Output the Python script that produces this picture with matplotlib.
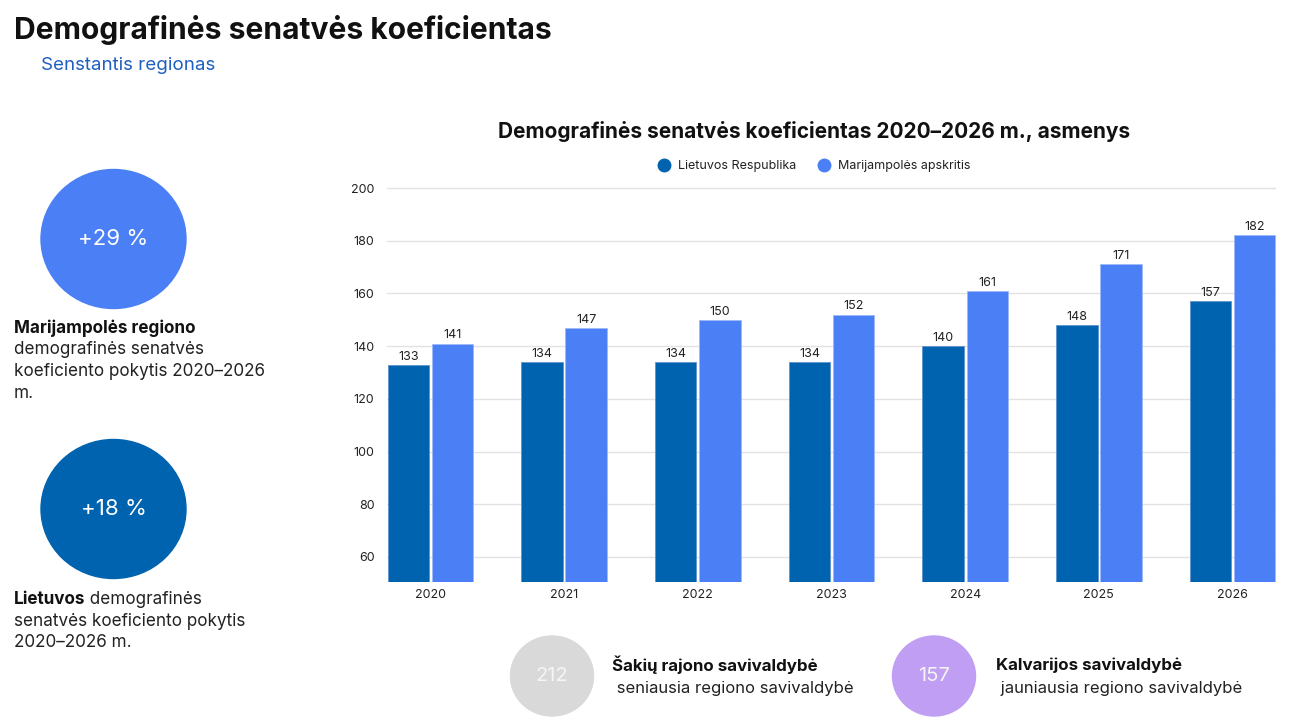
import matplotlib
matplotlib.use("Agg")
import matplotlib.pyplot as plt
from matplotlib.patches import Ellipse
from matplotlib.lines import Line2D
import numpy as np

plt.rcParams['font.family'] = ['Inter', 'DejaVu Sans']

# duomenys
years = ["2020", "2021", "2022", "2023", "2024", "2025", "2026"]
lietuva = [133, 134, 134, 134, 140, 148, 157]
marijampole = [141, 147, 150, 152, 161, 171, 182]
series_names = ["Lietuvos Respublika", "Marijampolės apskritis"]

change_region = "+29 %"
change_lt = "+18 %"
oldest_value = "212"
oldest_name = "Šakių rajono savivaldybė"
youngest_value = "157"
youngest_name = "Kalvarijos savivaldybė"

dark = "#0063AF"
light = "#4A7FF5"

W, H = 1291, 726
fig = plt.figure(figsize=(W / 100, H / 100), dpi=100)

# fono ašys pikseliais
bg = fig.add_axes([0, 0, 1, 1])
bg.set_xlim(0, W)
bg.set_ylim(H, 0)
bg.axis("off")

bg.text(14, 30, "Demografinės senatvės koeficientas", fontsize=21.6, fontweight="bold",
        va="center", ha="left", color="#111111")
bg.text(41, 66, "Senstantis regionas", fontsize=13.5, va="center", ha="left", color="#1f5fbf")

# kairės pusės apskritimai
bg.add_patch(Ellipse((113.5, 239), 145, 139, color=light))
bg.text(113.5, 239, change_region, fontsize=16, color="white", ha="center", va="center")
bg.add_patch(Ellipse((113.5, 509), 145, 139, color=dark))
bg.text(113.5, 509, change_lt, fontsize=16, color="white", ha="center", va="center")

bg.text(14, 328, "Marijampolės regiono", fontsize=12.3, fontweight="bold",
        va="center", color="#111111")
for i, line in enumerate(["demografinės senatvės", "koeficiento pokytis 2020–2026", "m."]):
    bg.text(14, 350 + i * 22, line, fontsize=12.3, va="center", color="#222222")

t2 = bg.text(14, 599, "Lietuvos", fontsize=12.3, fontweight="bold", va="center",
             color="#111111")
bg.annotate(" demografinės", xy=(1, 0.5), xycoords=t2, va="center", fontsize=12.3,
            color="#222222")
for i, line in enumerate(["senatvės koeficiento pokytis", "2020–2026 m."]):
    bg.text(14, 621 + i * 21.5, line, fontsize=12.3, va="center", color="#222222")

# apatiniai apskritimai
bg.add_patch(Ellipse((552, 676), 83, 80, color="#d9d9d9"))
bg.text(552, 676, oldest_value, fontsize=14.5, color="#f5f5f5", ha="center", va="center")
bg.text(612, 665, oldest_name, fontsize=12.2, fontweight="bold", va="center", color="#111111")
bg.text(612, 689, " seniausia regiono savivaldybė", fontsize=12, va="center", color="#222222")

bg.add_patch(Ellipse((934, 676), 83, 80, color="#bf9ef3"))
bg.text(934, 676, youngest_value, fontsize=14.5, color="#f5f5f5", ha="center", va="center")
bg.text(996, 665, youngest_name, fontsize=12.2, fontweight="bold", va="center", color="#111111")
bg.text(996, 689, " jauniausia regiono savivaldybė", fontsize=12, va="center", color="#222222")

# grafiko pavadinimas
bg.text(814, 131, "Demografinės senatvės koeficientas 2020–2026 m., asmenys", fontsize=15,
        fontweight="bold", ha="center", va="center", color="#111111")

# stulpelinė diagrama
left, right, top, bottom = 387, 1276, 182, 582
ax = fig.add_axes([left / W, 1 - bottom / H, (right - left) / W, (bottom - top) / H])
x = np.arange(len(years))
bw = 0.31
off = 0.165
b1 = ax.bar(x - off, lietuva, bw, color=dark, edgecolor="#5f93cc", linewidth=0.6,
            label=series_names[0], zorder=3)
b2 = ax.bar(x + off, marijampole, bw, color=light, edgecolor="#9dbaf8", linewidth=0.6,
            label=series_names[1], zorder=3)
for bars in (b1, b2):
    ax.bar_label(bars, padding=1.5, fontsize=9, color="#222222")

ax.set_xlim(-0.325, 6.325)
ax.set_ylim(50.5, 202.3)
ax.set_yticks(range(60, 201, 20))
ax.set_xticks(x)
ax.set_xticklabels(years)
ax.tick_params(axis="both", length=0, labelsize=9, colors="#222222")
ax.tick_params(axis="y", pad=9)
ax.tick_params(axis="x", pad=5)
ax.grid(axis="y", color="#e2e2e2", linewidth=1, zorder=0)
for s in ax.spines.values():
    s.set_visible(False)

handles = [Line2D([], [], marker="o", linestyle="", color=dark, markersize=9),
           Line2D([], [], marker="o", linestyle="", color=light, markersize=9)]
fig.legend(handles, series_names, loc="center", bbox_to_anchor=(811 / W, 1 - 166 / H),
           ncol=2, frameon=False, fontsize=9, handletextpad=0.1, columnspacing=1.2,
           labelcolor="#222222")

fig.savefig("out.png", dpi=100)
